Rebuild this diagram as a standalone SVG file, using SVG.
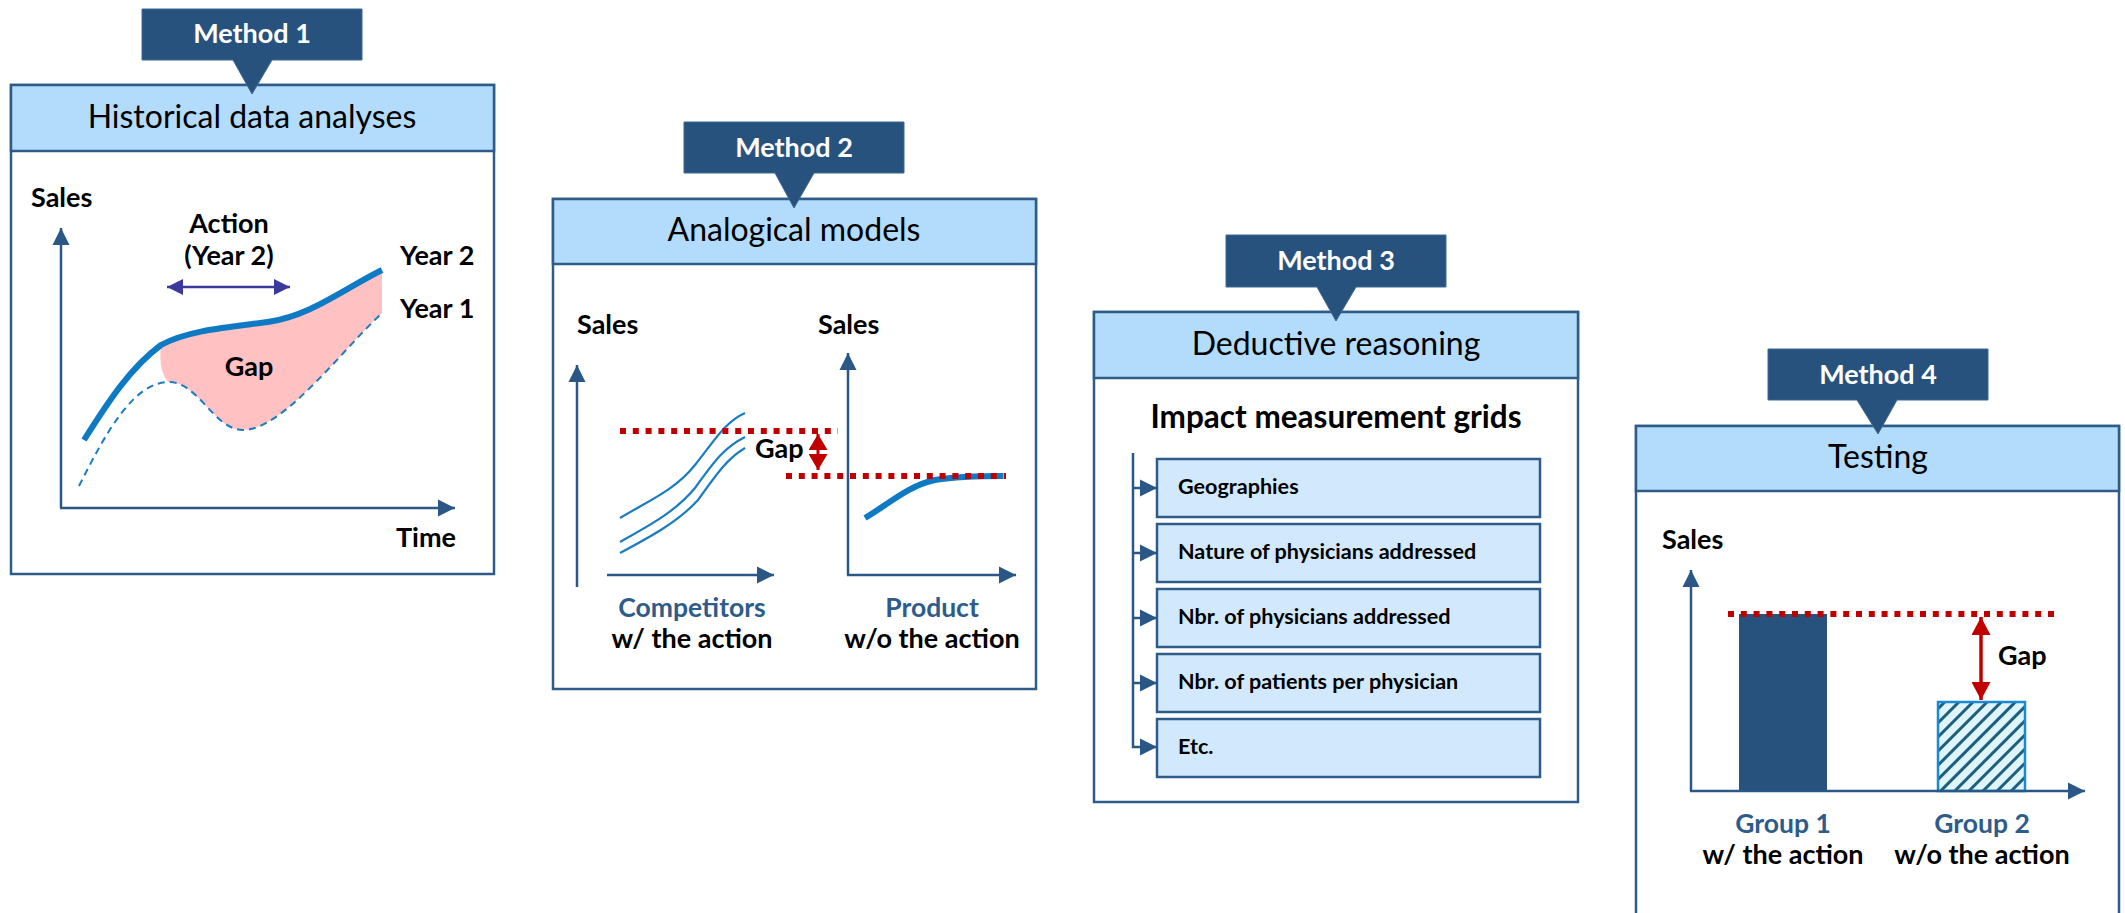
<svg xmlns="http://www.w3.org/2000/svg" width="2125" height="913" viewBox="0 0 2125 913">
<style>
.tag{fill:#27527e;stroke:#3d6894;stroke-width:1}
.tagt{font-family:Lato,"Open Sans",sans-serif;font-weight:bold;font-size:27px;fill:#fff;text-anchor:middle}
.panel{fill:#fff;stroke:#2f5b88;stroke-width:2.5}
.head{fill:#b3dbfb;stroke:#2f5b88;stroke-width:2.5}
.ht{font-family:Lato,"Open Sans",sans-serif;font-size:32px;fill:#000;text-anchor:middle}
.b{font-family:Lato,"Open Sans",sans-serif;font-weight:bold;font-size:27px;fill:#000}
.bb{font-family:Lato,"Open Sans",sans-serif;font-weight:bold;font-size:26.5px;fill:#2e5c8a}
.mid{text-anchor:middle}
.ax{fill:none;stroke:#2a5785;stroke-width:2.5}
.red{fill:none;stroke:#c00000;stroke-width:6;stroke-dasharray:6 6.8}
.item{fill:#d2e9fd;stroke:#2f5b88;stroke-width:2.5}
.it{font-family:Lato,"Open Sans",sans-serif;font-weight:bold;font-size:21.6px;fill:#000}
</style>
<defs>
<marker id="ah" markerUnits="userSpaceOnUse" markerWidth="18" markerHeight="18" refX="17" refY="8.5" orient="auto" viewBox="0 0 18 17">
<path d="M0,0 L17,8.5 L0,17 Z" fill="#2a5785"/>
</marker>
<marker id="pa" markerUnits="userSpaceOnUse" markerWidth="17" markerHeight="17" refX="16" refY="8" orient="auto-start-reverse" viewBox="0 0 17 16">
<path d="M0,0 L16,8 L0,16 Z" fill="#3b3a9c"/>
</marker>
<marker id="ra" markerUnits="userSpaceOnUse" markerWidth="19" markerHeight="19" refX="16" refY="9.5" orient="auto-start-reverse" viewBox="0 0 19 19">
<path d="M0,0 L16,9.5 L0,19 Z" fill="#c00000"/>
</marker>
<marker id="ra2" markerUnits="userSpaceOnUse" markerWidth="19" markerHeight="19" refX="18" refY="9.5" orient="auto-start-reverse" viewBox="0 0 19 19">
<path d="M0,0 L18,9.5 L0,19 Z" fill="#c00000"/>
</marker>
<pattern id="hatch" patternUnits="userSpaceOnUse" width="10" height="10" patternTransform="rotate(45)">
<rect width="10" height="10" fill="#dff5fc"/>
<rect x="0" y="0" width="3" height="10" fill="#1f5f7e"/>
</pattern>
</defs>

<!-- Panel 1 -->
<g id="panel1">
<rect class="panel" x="11" y="85" width="483" height="489"/>
<rect class="head" x="11" y="85" width="483" height="66"/>
<text class="ht" x="252" y="128">Historical data analyses</text>
<text class="b" x="31" y="207">Sales</text>
<path class="ax" d="M61,508 V228" marker-end="url(#ah)"/>
<path class="ax" d="M60,508 H455" marker-end="url(#ah)"/>
<path d="M161,345 C188,330 230,327 268,322 C310,316 342,290 382,270 L382,313 C342,350 283,430 243,430 C214,430 198,381 168,382 Q158,370 161,345 Z" fill="#ffc1c1"/>
<path d="M79,486 C107,430 134,383 168,382 C198,381 214,430 243,430 C283,430 342,350 382,313" fill="none" stroke="#1a7cc1" stroke-width="2" stroke-dasharray="7 5"/>
<path d="M84,440 C108,402 130,368 161,345 C188,330 230,327 268,322 C310,316 342,290 382,270" fill="none" stroke="#0e7ac4" stroke-width="6"/>
<path d="M167,287 H290" stroke="#3b3a9c" stroke-width="2.5" marker-start="url(#pa)" marker-end="url(#pa)"/>
<text class="b mid" x="229" y="233">Action</text>
<text class="b mid" x="229" y="265">(Year 2)</text>
<text class="b" x="400" y="265">Year 2</text>
<text class="b" x="400" y="318">Year 1</text>
<text class="b mid" x="249" y="376">Gap</text>
<text class="b" x="396" y="547">Time</text>
</g>
<g id="method1">
<path class="tag" d="M142,9 H362 V60 H272 L252,94 L233,60 H142 Z"/>
<text class="tagt" x="252" y="43">Method 1</text>
</g>

<!-- Panel 2 -->
<g id="panel2">
<rect class="panel" x="553" y="199" width="483" height="490"/>
<rect class="head" x="553" y="199" width="483" height="65"/>
<text class="ht" x="794" y="241">Analogical models</text>
<text class="b" x="577" y="334">Sales</text>
<text class="b" x="818" y="334">Sales</text>
<path class="ax" d="M577,587 V365" marker-end="url(#ah)"/>
<path class="ax" d="M607,575 H774" marker-end="url(#ah)"/>
<path class="ax" d="M848,575 V353" marker-end="url(#ah)"/>
<path class="ax" d="M847,575 H1016" marker-end="url(#ah)"/>
<path d="M620,518 C650,500 675,490 695,465 C715,440 725,422 745,413" fill="none" stroke="#1a7cc1" stroke-width="2.2"/>
<path d="M620,542 C650,525 675,512 695,488 C715,460 725,447 745,437" fill="none" stroke="#1a7cc1" stroke-width="2.2"/>
<path d="M620,553 C650,537 678,522 698,500 C718,472 728,458 745,448" fill="none" stroke="#1a7cc1" stroke-width="2.2"/>
<path d="M865,518 C890,503 910,485 935,480 C960,476 985,476 1003,476" fill="none" stroke="#0e7ac4" stroke-width="6"/>
<path class="red" d="M620,431 H838"/>
<path class="red" d="M786,476 H1006"/>
<path d="M818,434 V470" stroke="#c00000" stroke-width="3" marker-start="url(#ra)" marker-end="url(#ra)"/>
<text class="b" x="755" y="458">Gap</text>
<text class="bb mid" x="692" y="617">Competitors</text>
<text class="b mid" x="692" y="648">w/ the action</text>
<text class="bb mid" x="932" y="617">Product</text>
<text class="b mid" x="932" y="648">w/o the action</text>
</g>
<g id="method2">
<path class="tag" d="M684,122 H904 V173 H814 L794,208 L775,173 H684 Z"/>
<text class="tagt" x="794" y="157">Method 2</text>
</g>

<!-- Panel 3 -->
<g id="panel3">
<rect class="panel" x="1094" y="312" width="484" height="490"/>
<rect class="head" x="1094" y="312" width="484" height="66"/>
<text class="ht" x="1336" y="355">Deductive reasoning</text>
<text class="b mid" x="1336" y="428" style="font-size:31.5px">Impact measurement grids</text>
</g>
<g id="item1"><rect class="item" x="1157" y="459" width="383" height="58"/><text class="it" x="1178" y="494">Geographies</text></g>
<g id="item2"><rect class="item" x="1157" y="524" width="383" height="58"/><text class="it" x="1178" y="559">Nature of physicians addressed</text></g>
<g id="item3"><rect class="item" x="1157" y="589" width="383" height="58"/><text class="it" x="1178" y="624">Nbr. of physicians addressed</text></g>
<g id="item4"><rect class="item" x="1157" y="654" width="383" height="58"/><text class="it" x="1178" y="689">Nbr. of patients per physician</text></g>
<g id="item5"><rect class="item" x="1157" y="719" width="383" height="58"/><text class="it" x="1178" y="754">Etc.</text></g>
<g id="connectors">
<path class="ax" d="M1133,453 V747 H1157" marker-end="url(#ah)"/>
<path class="ax" d="M1133,488 H1157" marker-end="url(#ah)"/>
<path class="ax" d="M1133,553 H1157" marker-end="url(#ah)"/>
<path class="ax" d="M1133,618 H1157" marker-end="url(#ah)"/>
<path class="ax" d="M1133,683 H1157" marker-end="url(#ah)"/>
</g>
<g id="method3">
<path class="tag" d="M1226,235 H1446 V287 H1356 L1336,321 L1317,287 H1226 Z"/>
<text class="tagt" x="1336" y="270">Method 3</text>
</g>

<!-- Panel 4 -->
<g id="panel4">
<rect class="panel" x="1636" y="426" width="483" height="520"/>
<rect class="head" x="1636" y="426" width="483" height="65"/>
<text class="ht" x="1878" y="468">Testing</text>
<text class="b" x="1662" y="549">Sales</text>
<rect x="1739" y="614" width="88" height="177" fill="#27527e"/>
<rect x="1938" y="702" width="87" height="89" fill="url(#hatch)" stroke="#1a8ad4" stroke-width="2.5"/>
<path class="ax" d="M1691,791 V570" marker-end="url(#ah)"/>
<path class="ax" d="M1690,791 H2085" marker-end="url(#ah)"/>
<path class="red" d="M1728,614 H2060"/>
<path d="M1981,617 V700" stroke="#c00000" stroke-width="3.5" marker-start="url(#ra2)" marker-end="url(#ra2)"/>
<text class="b" x="1998" y="665">Gap</text>
<text class="bb mid" x="1783" y="833">Group 1</text>
<text class="b mid" x="1783" y="864">w/ the action</text>
<text class="bb mid" x="1982" y="833">Group 2</text>
<text class="b mid" x="1982" y="864">w/o the action</text>
</g>
<g id="method4">
<path class="tag" d="M1768,349 H1988 V400 H1897 L1878,434 L1857,400 H1768 Z"/>
<text class="tagt" x="1878" y="384">Method 4</text>
</g>
</svg>
